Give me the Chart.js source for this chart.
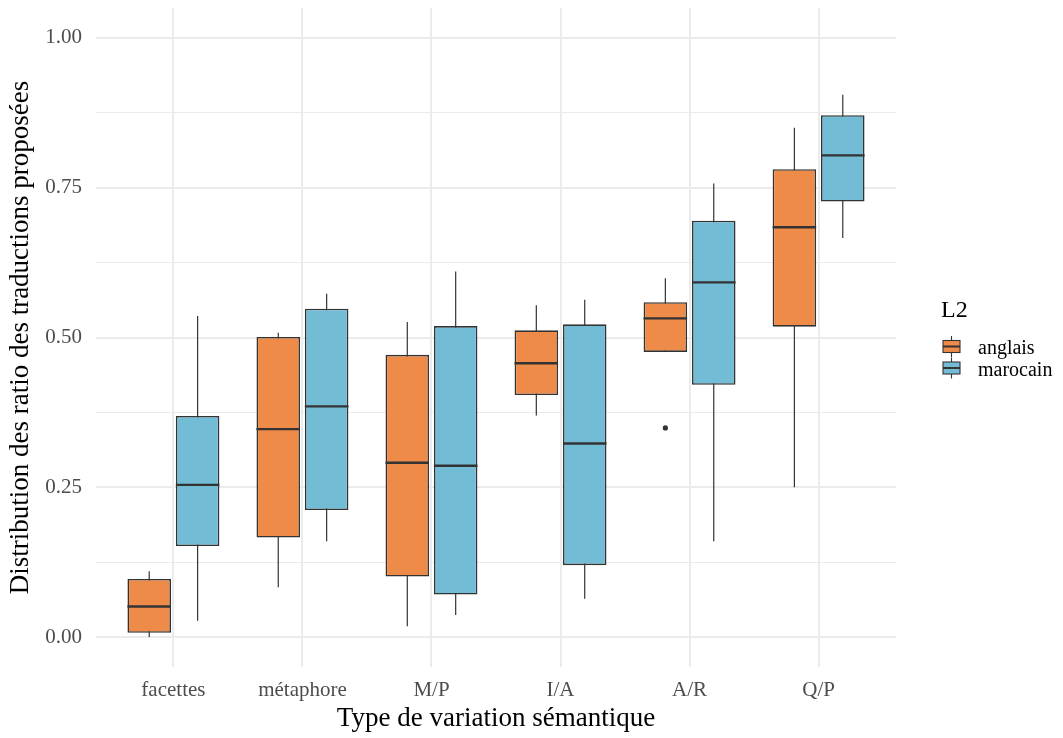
<!DOCTYPE html>
<html>
<head>
<meta charset="utf-8">
<script src="https://cdn.jsdelivr.net/npm/chart.js@4/dist/chart.umd.min.js"></script>
<style>
  body { margin: 0; background: #fff; }
  #wrap { width: 1063px; height: 738px; }
</style>
</head>
<body>
<div id="wrap"><canvas id="boxChart" width="1063" height="738"></canvas></div>
<script>
// categories and tick labels
const categories = ['facettes', 'métaphore', 'M/P', 'I/A', 'A/R', 'Q/P'];
const yTicks = [0, 0.125, 0.25, 0.375, 0.5, 0.625, 0.75, 0.875, 1];
const yTickLabels = ['0.00', '', '0.25', '', '0.50', '', '0.75', '', '1.00'];

// L2 = anglais
const anglaisMin = [0.0, 0.083, 0.018, 0.370, 0.476, 0.250];
const anglaisQ1 = [0.007, 0.166, 0.101, 0.404, 0.476, 0.518];
const anglaisMed = [0.051, 0.347, 0.291, 0.457, 0.532, 0.684];
const anglaisQ3 = [0.097, 0.501, 0.471, 0.512, 0.559, 0.781];
const anglaisMax = [0.110, 0.508, 0.526, 0.554, 0.599, 0.850];
const anglaisOut = [[], [], [], [], [0.349], []];

// L2 = marocain
const marocainMin = [0.027, 0.160, 0.037, 0.064, 0.160, 0.666];
const marocainQ1 = [0.152, 0.212, 0.071, 0.120, 0.421, 0.727];
const marocainMed = [0.254, 0.385, 0.286, 0.323, 0.592, 0.804];
const marocainQ3 = [0.369, 0.548, 0.519, 0.522, 0.695, 0.871];
const marocainMax = [0.536, 0.573, 0.610, 0.563, 0.757, 0.905];
const marocainOut = [[], [], [], [], [], []];

const orange = '#EF8B48';
const blue = '#72BCD6';
const edge = '#333333';
const serif = "'Liberation Serif', 'DejaVu Serif', serif";

const stats = [
  { min: anglaisMin, med: anglaisMed, max: anglaisMax, out: anglaisOut },
  { min: marocainMin, med: marocainMed, max: marocainMax, out: marocainOut }
];

// whiskers, medians, outliers and the legend
const boxExtras = {
  id: 'boxExtras',
  beforeDatasetsDraw(chart) {
    const ctx = chart.ctx, y = chart.scales.y;
    ctx.save();
    ctx.strokeStyle = edge;
    ctx.lineWidth = 1.2;
    stats.forEach((s, d) => {
      chart.getDatasetMeta(d).data.forEach((bar, i) => {
        const x = bar.x;
        ctx.beginPath();
        ctx.moveTo(x, y.getPixelForValue(s.max[i]));
        ctx.lineTo(x, y.getPixelForValue(s.min[i]));
        ctx.stroke();
      });
    });
    ctx.restore();
  },
  afterDatasetsDraw(chart) {
    const ctx = chart.ctx, y = chart.scales.y;
    ctx.save();
    stats.forEach((s, d) => {
      chart.getDatasetMeta(d).data.forEach((bar, i) => {
        const {x, width} = bar.getProps(['x', 'width'], true);
        const py = y.getPixelForValue(s.med[i]);
        ctx.strokeStyle = edge;
        ctx.lineWidth = 2.4;
        ctx.beginPath();
        ctx.moveTo(x - width / 2, py);
        ctx.lineTo(x + width / 2, py);
        ctx.stroke();
        ctx.fillStyle = edge;
        s.out[i].forEach(v => {
          ctx.beginPath();
          ctx.arc(x, y.getPixelForValue(v), 2.6, 0, Math.PI * 2);
          ctx.fill();
        });
      });
    });

    // legend
    ctx.fillStyle = '#000';
    ctx.textAlign = 'left';
    ctx.textBaseline = 'alphabetic';
    ctx.font = '24px ' + serif;
    ctx.fillText('L2', 941, 317);
    ctx.font = '20px ' + serif;
    chart.data.datasets.forEach((ds, d) => {
      const cy = 346.5 + d * 21.5;
      const cx = 951.5;
      ctx.strokeStyle = edge;
      ctx.lineWidth = 1.1;
      ctx.beginPath();
      ctx.moveTo(cx, cy - 10.5);
      ctx.lineTo(cx, cy + 10.5);
      ctx.stroke();
      ctx.fillStyle = ds.backgroundColor;
      ctx.fillRect(cx - 8.5, cy - 6, 17, 12);
      ctx.strokeRect(cx - 8.5, cy - 6, 17, 12);
      ctx.lineWidth = 2;
      ctx.beginPath();
      ctx.moveTo(cx - 8.5, cy);
      ctx.lineTo(cx + 8.5, cy);
      ctx.stroke();
      ctx.fillStyle = '#000';
      ctx.fillText(ds.label, 978, cy + 7.5);
    });
    ctx.restore();
  }
};

const ctx = document.getElementById('boxChart').getContext('2d');
new Chart(ctx, {
  type: 'bar',
  data: {
    datasets: [{
      label: 'anglais',
      data: categories.map((c, i) => ({ x: i, y: [anglaisQ1[i], anglaisQ3[i]] })),
      backgroundColor: orange,
      borderColor: edge,
      borderWidth: 1.6,
      borderSkipped: false
    }, {
      label: 'marocain',
      data: categories.map((c, i) => ({ x: i, y: [marocainQ1[i], marocainQ3[i]] })),
      backgroundColor: blue,
      borderColor: edge,
      borderWidth: 1.6,
      borderSkipped: false
    }]
  },
  options: {
    responsive: false,
    animation: false,
    categoryPercentage: 0.75,
    barPercentage: 0.9,
    layout: { padding: { top: 8, right: 167, left: 0, bottom: 0 } },
    plugins: {
      legend: { display: false },
      tooltip: { enabled: false }
    },
    scales: {
      x: {
        type: 'linear',
        min: -0.6,
        max: 5.6,
        offset: false,
        border: { display: false },
        grid: { color: '#EBEBEB', lineWidth: 2, drawTicks: false, offset: false },
        afterBuildTicks: s => { s.ticks = categories.map((c, i) => ({ value: i })); },
        afterFit: s => { s.height = 71; s.paddingLeft = 0; s.paddingRight = 0; },
        ticks: {
          padding: 11,
          color: '#4D4D4D',
          font: { family: serif, size: 21 },
          maxRotation: 0,
          autoSkip: false,
          callback: v => categories[v]
        },
        title: {
          display: true,
          text: 'Type de variation sémantique',
          color: '#000',
          font: { family: serif, size: 27 },
          padding: { top: 0, bottom: 3 }
        }
      },
      y: {
        min: -0.05,
        max: 1.05,
        border: { display: false },
        grid: {
          color: '#EBEBEB',
          drawTicks: false,
          lineWidth: c => (c.tick && Math.abs(c.tick.value * 4 - Math.round(c.tick.value * 4)) < 1e-6) ? 2 : 1
        },
        afterBuildTicks: s => { s.ticks = yTicks.map(v => ({ value: v })); },
        afterFit: s => { s.width = 96; s.paddingTop = 0; s.paddingBottom = 0; },
        ticks: {
          padding: 14,
          color: '#4D4D4D',
          font: { family: serif, size: 21 },
          autoSkip: false,
          callback: (v, i) => yTickLabels[i]
        },
        title: {
          display: true,
          text: 'Distribution des ratio des traductions proposées',
          color: '#000',
          font: { family: serif, size: 27 },
          padding: { top: 5, bottom: 0 }
        }
      }
    }
  },
  plugins: [boxExtras]
});
</script>
</body>
</html>
